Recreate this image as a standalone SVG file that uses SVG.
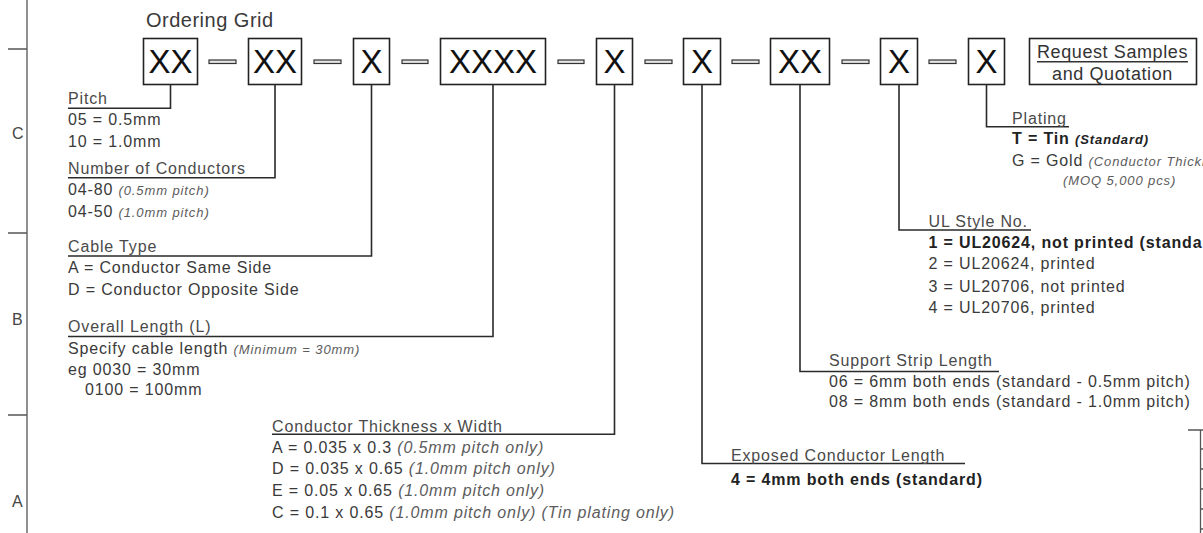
<svg xmlns="http://www.w3.org/2000/svg" width="1203" height="533" viewBox="0 0 1203 533">
<style>
text{font-family:"Liberation Sans",Arial,Helvetica,sans-serif}
.t{font-size:16px;fill:#3a3a3a;letter-spacing:0.85px}
.h{font-size:16px;fill:#4a4a4a;letter-spacing:0.85px}
.i{font-style:italic;fill:#5c5c5c}
.s{font-size:13px;letter-spacing:0.9px}
.b{font-weight:bold;fill:#222}
.box{fill:#fff;stroke:#222;stroke-width:1.6}
.x{font-size:33px;fill:#111;text-anchor:middle}
.dash{fill:#e4e4e4;stroke:#333;stroke-width:1.2}
.conn{fill:none;stroke:#2a2a2a;stroke-width:1.6}
.frame{fill:none;stroke:#555;stroke-width:1.3}
.lt{font-size:16px;fill:#444}
</style>
<rect width="1203" height="533" fill="#fff"/>
<g id="frame">
<path class="frame" d="M27,0V533M8,49H27M8,233H27M8,415H27"/>
<text class="lt" x="12" y="139">C</text>
<text class="lt" x="12" y="325">B</text>
<text class="lt" x="12" y="507">A</text>
<path class="frame" d="M1188,430H1203M1200.5,430V533M1200.5,449H1203M1200.5,469H1203M1200.5,489H1203M1200.5,509H1203M1200.5,529H1203"/>
</g>
<text id="title" x="146" y="27" style="font-size:20px;fill:#3a3a3a;letter-spacing:0.5px">Ordering Grid</text>
<g id="dashes">
<rect class="dash" x="209" y="60" width="27" height="3.5"/>
<rect class="dash" x="314" y="60" width="27" height="3.5"/>
<rect class="dash" x="402" y="60" width="26" height="3.5"/>
<rect class="dash" x="558" y="60" width="26" height="3.5"/>
<rect class="dash" x="645" y="60" width="27" height="3.5"/>
<rect class="dash" x="732" y="60" width="27" height="3.5"/>
<rect class="dash" x="842" y="60" width="27" height="3.5"/>
<rect class="dash" x="929" y="60" width="27" height="3.5"/>
</g>
<g id="box-pitch"><rect class="box" x="143.5" y="38.5" width="54" height="46"/><text class="x" x="170.5" y="72.5">XX</text></g>
<g id="box-conductors"><rect class="box" x="248.5" y="38.5" width="53" height="46"/><text class="x" x="275" y="72.5">XX</text></g>
<g id="box-cable"><rect class="box" x="353.5" y="38.5" width="36" height="46"/><text class="x" x="371.5" y="72.5">X</text></g>
<g id="box-length"><rect class="box" x="440.5" y="38.5" width="105" height="46"/><text class="x" x="493" y="72.5">XXXX</text></g>
<g id="box-thickness"><rect class="box" x="596.5" y="38.5" width="36" height="46"/><text class="x" x="614.5" y="72.5">X</text></g>
<g id="box-exposed"><rect class="box" x="683.5" y="38.5" width="37" height="46"/><text class="x" x="702" y="72.5">X</text></g>
<g id="box-support"><rect class="box" x="770.5" y="38.5" width="59" height="46"/><text class="x" x="800" y="72.5">XX</text></g>
<g id="box-ul"><rect class="box" x="880.5" y="38.5" width="37" height="46"/><text class="x" x="899" y="72.5">X</text></g>
<g id="box-plating"><rect class="box" x="968.5" y="38.5" width="36" height="46"/><text class="x" x="986.5" y="72.5">X</text></g>
<g id="request">
<rect class="box" x="1029.5" y="38.5" width="167" height="46"/>
<text x="1112.5" y="58" text-anchor="middle" style="font-size:18px;fill:#333;letter-spacing:0.6px">Request Samples</text>
<line x1="1037" y1="61.7" x2="1188" y2="61.7" stroke="#333" stroke-width="1.5"/>
<text x="1112.5" y="80" text-anchor="middle" style="font-size:18px;fill:#333;letter-spacing:0.6px">and Quotation</text>
</g>
<g id="connectors">
<path class="conn" d="M170.5,84.5V108.3H68"/>
<path class="conn" d="M275,84.5V177.7H68"/>
<path class="conn" d="M371.5,84.5V256H68"/>
<path class="conn" d="M493,84.5V336.5H68"/>
<path class="conn" d="M614.5,84.5V434.3H272"/>
<path class="conn" d="M702,84.5V463.5H965"/>
<path class="conn" d="M800,84.5V371.5H999"/>
<path class="conn" d="M899,84.5V230H1031"/>
<path class="conn" d="M986.5,84.5V126.7H1069"/>
</g>
<g id="label-pitch">
<text class="h" x="68" y="104">Pitch</text>
<text class="t" x="68" y="125">05 = 0.5mm</text>
<text class="t" x="68" y="147">10 = 1.0mm</text>
</g>
<g id="label-conductors">
<text class="h" x="68" y="173.5">Number of Conductors</text>
<text class="t" x="68" y="195">04-80 <tspan class="i s">(0.5mm pitch)</tspan></text>
<text class="t" x="68" y="217">04-50 <tspan class="i s">(1.0mm pitch)</tspan></text>
</g>
<g id="label-cable">
<text class="h" x="68" y="251.5">Cable Type</text>
<text class="t" x="68" y="273.3">A = Conductor Same Side</text>
<text class="t" x="68" y="295">D = Conductor Opposite Side</text>
</g>
<g id="label-length">
<text class="h" x="68" y="331.7">Overall Length (L)</text>
<text class="t" x="68" y="354">Specify cable length <tspan class="i s">(Minimum = 30mm)</tspan></text>
<text class="t" x="68" y="375">eg 0030 = 30mm</text>
<text class="t" x="85" y="395">0100 = 100mm</text>
</g>
<g id="label-thickness">
<text class="h" x="272" y="431.5">Conductor Thickness x Width</text>
<text class="t" x="272" y="452.7">A = 0.035 x 0.3 <tspan class="i">(0.5mm pitch only)</tspan></text>
<text class="t" x="272" y="474.3">D = 0.035 x 0.65 <tspan class="i">(1.0mm pitch only)</tspan></text>
<text class="t" x="272" y="496">E = 0.05 x 0.65 <tspan class="i">(1.0mm pitch only)</tspan></text>
<text class="t" x="272" y="517.7">C = 0.1 x 0.65 <tspan class="i">(1.0mm pitch only) (Tin plating only)</tspan></text>
</g>
<g id="label-exposed">
<text class="h" x="731" y="461">Exposed Conductor Length</text>
<text class="t b" x="731" y="485">4 = 4mm both ends (standard)</text>
</g>
<g id="label-support">
<text class="h" x="829" y="365.7">Support Strip Length</text>
<text class="t" x="829" y="387.3">06 = 6mm both ends (standard - 0.5mm pitch)</text>
<text class="t" x="829" y="407.3">08 = 8mm both ends (standard - 1.0mm pitch)</text>
</g>
<g id="label-ul">
<text class="h" x="928.5" y="226.7">UL Style No.</text>
<text class="t b" x="928.5" y="248.3">1 = UL20624, not printed (standa</text>
<text class="t" x="928.5" y="269">2 = UL20624, printed</text>
<text class="t" x="928.5" y="291.7">3 = UL20706, not printed</text>
<text class="t" x="928.5" y="312.7">4 = UL20706, printed</text>
</g>
<g id="label-plating">
<text class="h" x="1012" y="124">Plating</text>
<text class="t" x="1012" y="144"><tspan class="b">T = Tin</tspan> <tspan class="b i s">(Standard)</tspan></text>
<text class="t" x="1012" y="165.7">G = Gold <tspan class="i s">(Conductor Thickn</tspan></text>
<text class="t i s" x="1063" y="185">(MOQ 5,000 pcs)</text>
</g>
</svg>
